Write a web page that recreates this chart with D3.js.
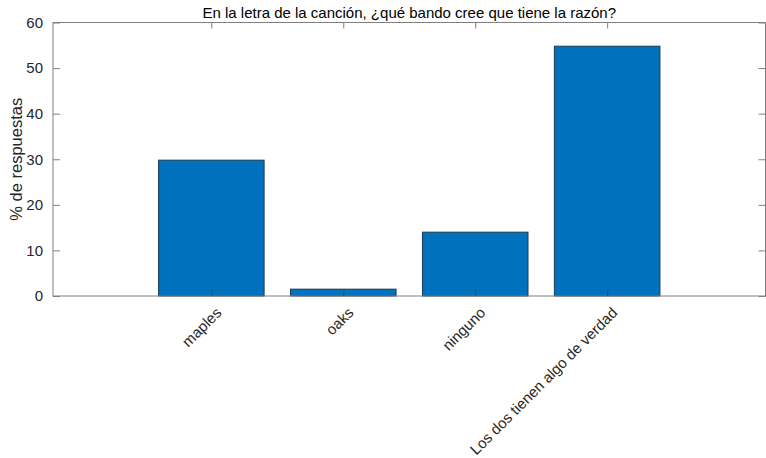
<!DOCTYPE html>
<html><head><meta charset="utf-8">
<script src="https://cdn.jsdelivr.net/npm/d3@7"></script>
<style>body{margin:0;background:#fff}svg{display:block}text{font-family:"Liberation Sans",Arial,sans-serif}</style>
</head><body>
<svg id="c" width="766" height="458"></svg>
<script>
const categories = ["maples","oaks","ninguno","Los dos tienen algo de verdad"];
const values = [29.8, 1.5, 14.0, 54.8];
const yTicks = [0,10,20,30,40,50,60];
const title = "En la letra de la canción, ¿qué bando cree que tiene la razón?";
const yLabel = "% de respuestas";

const svg = d3.select("#c");
const L=53, R=765.5, T=22.5, B=296;
const x = d3.scaleLinear().domain([-0.2,5.2]).range([L,R]);
const y = d3.scaleLinear().domain([0,60]).range([B,T]);
const axisCol="#808080", textCol="#262626";
const idx = categories.map((d,i)=>i+1);
const bw = x(1.8)-x(1);

// bars
svg.append("g").selectAll("rect").data(values).join("rect")
  .attr("x",(d,i)=>x(i+1)-bw/2).attr("width",bw)
  .attr("y",d=>y(d)).attr("height",d=>y(0)-y(d))
  .attr("fill","#0072BD").attr("stroke","#1f3a52").attr("stroke-width",1);

// box
svg.append("rect").attr("x",L).attr("y",T).attr("width",R-L).attr("height",B-T)
  .attr("fill","none").attr("stroke",axisCol).attr("stroke-width",1);

// left axis
const ya = d3.axisLeft(y).tickValues(yTicks).tickSize(-7).tickPadding(10).tickFormat(d3.format("d"));
const gy = svg.append("g").attr("transform",`translate(${L},0)`).call(ya);
gy.select(".domain").remove();
gy.selectAll("line").attr("stroke",axisCol);
gy.selectAll("text").attr("fill",textCol).style("font-size","15px");
// right ticks
const gr = svg.append("g").attr("transform",`translate(${R},0)`).call(d3.axisRight(y).tickValues(yTicks).tickSize(-7).tickFormat(""));
gr.select(".domain").remove(); gr.selectAll("line").attr("stroke",axisCol);

// bottom axis
const gx = svg.append("g").attr("transform",`translate(0,${B})`)
  .call(d3.axisBottom(x).tickValues(idx).tickSize(-6).tickFormat((d,i)=>categories[i]));
gx.select(".domain").remove();
gx.selectAll("line").attr("stroke","#404040");
gx.selectAll("text").attr("fill",textCol).style("font-size","15px")
  .attr("text-anchor","end").attr("dy","0.35em").attr("y",0)
  .attr("transform","translate(7,14) rotate(-45)");
// top ticks
const gt = svg.append("g").attr("transform",`translate(0,${T})`).call(d3.axisTop(x).tickValues(idx).tickSize(-6).tickFormat(""));
gt.select(".domain").remove(); gt.selectAll("line").attr("stroke",axisCol);

// title
svg.append("text").attr("x",(L+R)/2).attr("y",18).attr("text-anchor","middle")
  .attr("fill","#000").style("font-size","15px").text(title);
// y label
svg.append("text").attr("transform",`translate(22,${(T+B)/2}) rotate(-90)`)
  .attr("text-anchor","middle").attr("fill",textCol).style("font-size","16.5px").text(yLabel);
</script>
</body></html>
